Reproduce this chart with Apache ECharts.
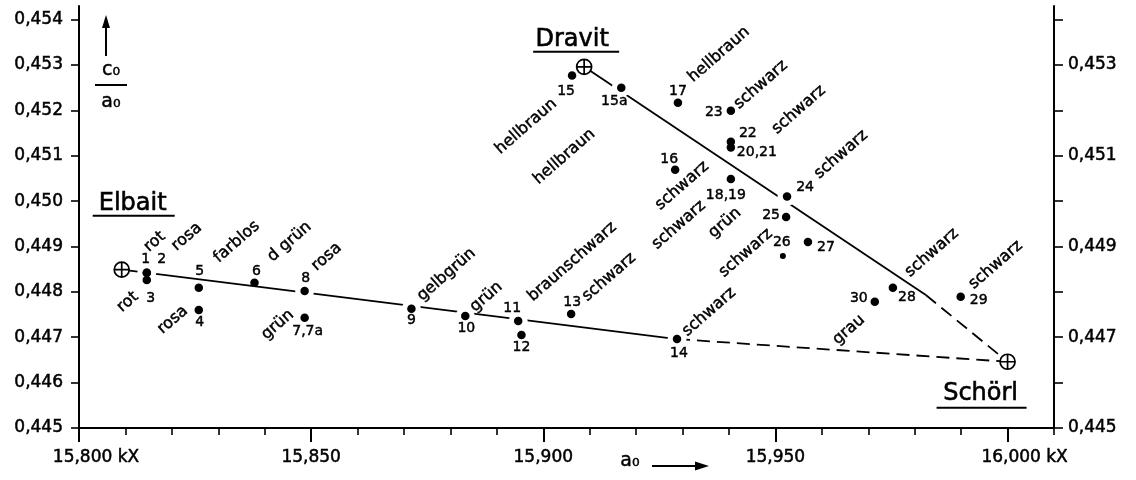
<!DOCTYPE html>
<html><head><meta charset="utf-8">
<script src="https://cdn.jsdelivr.net/npm/echarts@6/dist/echarts.min.js"></script>
<style>html,body{margin:0;padding:0;background:#fff}#c{width:1136px;height:480px}</style>
</head><body><div id="c"></div>
<script>
// ---------------- data ----------------
const xTickValues = [15800,15810,15820,15830,15840,15850,15860,15870,15880,15890,15900,15910,15920,15930,15940,15950,15960,15970,15980,15990,16000,16010];
const xLabelValues = [15800,15850,15900,15950,16000];
const xTickLabels = ['15,800 kX','15,850','15,900','15,950','16,000 kX'];
const yTickValues = [0.445,0.446,0.447,0.448,0.449,0.450,0.451,0.452,0.453,0.454];
const yLeftLabels = ['0,445','0,446','0,447','0,448','0,449','0,450','0,451','0,452','0,453','0,454'];
const yRightLabelValues = [0.445,0.447,0.449,0.451,0.453];
const yRightLabels = ['0,445','0,447','0,449','0,451','0,453'];

const sampleNo    = ['1','2','3','4','5','6','7,7a','8','9','10','11','12','13','14','15','15a','16','17','18,19','20,21','22','23','24','25','26','27','28','29','30'];
const sampleA0    = [15814.6,15814.6,15814.6,15825.8,15825.8,15837.8,15848.6,15848.6,15871.6,15883.2,15894.6,15895.3,15906.0,15928.8,15906.2,15916.8,15928.4,15929.0,15940.4,15940.4,15940.4,15940.4,15952.5,15952.3,15951.6,15957.0,15975.3,15989.9,15971.4];
const sampleRatio = [0.44842,0.44842,0.44826,0.44760,0.44809,0.44820,0.44743,0.44802,0.44763,0.44747,0.44736,0.44705,0.44751,0.44696,0.45277,0.45250,0.45069,0.45217,0.45049,0.45118,0.45131,0.45199,0.45010,0.44965,0.44879,0.44910,0.44809,0.44789,0.44778];

const endName  = ['Elbait','Dravit','Schörl'];
const endA0    = [15809.2,15908.8,16000.0];
const endRatio = [0.44849,0.45296,0.44646];
// vertex where the Dravit–Schörl line turns from solid to dashed
const dravitBreakA0 = 15982.4;
const dravitBreakRatio = 0.44793;

const colourText   = ['rot','rosa','rot','rosa','farblos','d grün','grün','rosa','gelbgrün','grün','braunschwarz','schwarz','schwarz','hellbraun','hellbraun','schwarz','hellbraun','schwarz','grün','schwarz','schwarz','schwarz','schwarz','schwarz','schwarz','grau'];
const colourSample = ['1','2','3','4','5','6','7,7a','8','9','10','11','13','14','15','15a','16','17','18,19','18,19','23','22','24','26','28','29','30'];

// ---------------- layout (pixel offsets / styles) ----------------
const numOffset = {'1':[-1,-13],'2':[15,-13],'3':[4,18],'4':[1,12],'5':[1,-16],'6':[2,-11],'7,7a':[3,14],'8':[1,-13],'9':[0,12],'10':[1,12],'11':[-6,-13],'12':[0,12],'13':[1,-12],'14':[2,14],'15':[-6,16],'15a':[-7,14],'16':[-6,-10],'17':[0,-11],'18,19':[-5,16],'20,21':[26,5],'22':[17,-8],'23':[-17,2],'24':[18,-9],'25':[-15,-2],'26':[-1,-14],'27':[18,5],'28':[14,10],'29':[18,3],'30':[-16,-3]};
const colourOffset = [[8,-31],[40,-36],[-19,22],[-26,10],[38,-46],[35,-41],[-27,7],[22,-34],[35,-34],[21,-19],[54,-59],[38,-37],[32,-27],[-46,51],[-57,69],[7,16],[41,-48],[-52,46],[-6,44],[30,-26],[68,-32],[54,-42],[-37,-3],[39,-35],[35,-32],[-26,28]];
const gapSamples = ['1','8','9','10','11','14','15a','24'];
const smallDots = ['26'];
const endTitleLayout = [
  {t:[11,-66], u:[-29,53,-54]},
  {t:[-12,-27], u:[-51,35,-15]},
  {t:[-27,32], u:[-71,19,46]}
];

const FONT = '"DejaVu Sans", sans-serif';
const chart = echarts.init(document.getElementById('c'));
const idx = n => sampleNo.indexOf(n);
const pt = n => [sampleA0[idx(n)], sampleRatio[idx(n)]];
const endPt = i => [endA0[i], endRatio[i]];
const near = (a,b) => Math.abs(a-b) < 1e-7;
const gridBox = {left:79, right:82, top:6, bottom:52};
const axisLineStyle = {color:'#000', width:2};
const labelBase = {color:'#000', fontFamily:FONT, fontSize:17, textBorderColor:'#000', textBorderWidth:0.5};

const option = {
  backgroundColor:'#fff',
  animation:false,
  grid:[Object.assign({},gridBox), Object.assign({},gridBox)],
  xAxis:[
    {type:'value', gridIndex:0, min:15800, max:16010, position:'bottom',
     axisLine:{show:true, onZero:false, lineStyle:axisLineStyle},
     axisTick:{show:true, length:7, customValues:xTickValues, lineStyle:{color:'#000', width:1.6}},
     axisLabel:Object.assign({}, labelBase, {customValues:xLabelValues, margin:21,
       formatter:v => { const i = xLabelValues.findIndex(x=>near(x,v)); if (i<0) return ''; const s = xTickLabels[i]; return s.indexOf('kX')>=0 ? '{k|'+s+'}' : s; },
       rich:{k:{padding:[0,0,0,34], color:'#000', fontFamily:FONT, fontSize:17, textBorderColor:'#000', textBorderWidth:0.5}}}),
     splitLine:{show:false}},
    {type:'value', gridIndex:1, min:15800, max:16010, position:'bottom',
     axisLine:{show:false}, axisTick:{show:true, length:14, customValues:xLabelValues, lineStyle:{color:'#000', width:2}},
     axisLabel:{show:false}, splitLine:{show:false}}
  ],
  yAxis:[
    {type:'value', gridIndex:0, min:0.445, max:0.4543, position:'left',
     axisLine:{show:true, onZero:false, lineStyle:axisLineStyle},
     axisTick:{show:true, length:8, customValues:yTickValues, lineStyle:{color:'#000', width:1.6}},
     axisLabel:Object.assign({}, labelBase, {customValues:yTickValues, margin:16,
       formatter:v => { const i = yTickValues.findIndex(x=>near(x,v)); return i<0 ? '' : yLeftLabels[i]; }}),
     splitLine:{show:false}},
    {type:'value', gridIndex:0, min:0.445, max:0.4543, position:'right',
     axisLine:{show:true, onZero:false, lineStyle:axisLineStyle},
     axisTick:{show:true, length:9, customValues:yTickValues, lineStyle:{color:'#000', width:1.6}},
     axisLabel:Object.assign({}, labelBase, {customValues:yRightLabelValues, margin:14,
       formatter:v => { const i = yRightLabelValues.findIndex(x=>near(x,v)); return i<0 ? '' : yRightLabels[i]; }}),
     splitLine:{show:false}},
    {type:'value', gridIndex:1, min:0.445, max:0.4543, show:false}
  ],
  series:[
    {type:'line', xAxisIndex:0, yAxisIndex:0, data:[endPt(0), pt('14')], symbol:'none', silent:true, z:2,
     lineStyle:{color:'#000', width:1.8, opacity:1}},
    {type:'line', xAxisIndex:0, yAxisIndex:0, data:[pt('14'), endPt(2)], symbol:'none', silent:true, z:2,
     lineStyle:{color:'#000', width:1.8, opacity:1, type:[13,7]}},
    {type:'line', xAxisIndex:0, yAxisIndex:0, data:[endPt(1), [dravitBreakA0, dravitBreakRatio]], symbol:'none', silent:true, z:2,
     lineStyle:{color:'#000', width:1.8, opacity:1}},
    {type:'line', xAxisIndex:0, yAxisIndex:0, data:[[dravitBreakA0, dravitBreakRatio], endPt(2)], symbol:'none', silent:true, z:2,
     lineStyle:{color:'#000', width:1.8, opacity:1, type:[13,7]}},
    {type:'scatter', xAxisIndex:0, yAxisIndex:0, data:gapSamples.map(pt), symbol:'circle', symbolSize:19, silent:true, z:3,
     itemStyle:{color:'#fff', opacity:1}},
    {type:'scatter', xAxisIndex:0, yAxisIndex:0, z:4, silent:true,
     data:sampleNo.map((n,i)=>({value:[sampleA0[i], sampleRatio[i]], symbolSize: smallDots.indexOf(n)>=0 ? 6 : 8.5})),
     symbol:'circle', itemStyle:{color:'#000', opacity:1}},
    {type:'scatter', xAxisIndex:0, yAxisIndex:0, z:5, silent:true,
     data:endName.map((n,i)=>endPt(i)),
     symbol:'path://M0,10A10,10,0,1,1,20,10A10,10,0,1,1,0,10ZM10,0L10,20M0,10L20,10', symbolSize:15,
     itemStyle:{color:'#fff', borderColor:'#000', borderWidth:1.7, opacity:1}}
  ]
};
chart.setOption(option);

// ---------------- text annotations ----------------
const toPx = v => chart.convertToPixel({xAxisIndex:0, yAxisIndex:0}, v);
const graphics = [];
const txt = (x,y,text,size,rot,bw) => graphics.push({type:'text', x:x, y:y, rotation: rot||0, silent:true, z:10,
  style:{text:text, fill:'#000', stroke:'#000', lineWidth: bw===undefined ? 0.45 : bw, font: size+'px '+FONT, align:'center', verticalAlign:'middle', textAlign:'center', textVerticalAlign:'middle'}});
const line = (x1,y1,x2,y2,w) => graphics.push({type:'line', silent:true, z:10, shape:{x1:x1,y1:y1,x2:x2,y2:y2}, style:{stroke:'#000', lineWidth:w||2}});
const tri = (pts) => graphics.push({type:'polygon', silent:true, z:10, shape:{points:pts}, style:{fill:'#000'}});

sampleNo.forEach((n,i) => {
  const p = toPx([sampleA0[i], sampleRatio[i]]);
  const o = numOffset[n] || [0,-12];
  txt(p[0]+o[0], p[1]+o[1], n, 14);
});
const ROT = 41*Math.PI/180;
colourText.forEach((t,i) => {
  const p = toPx(pt(colourSample[i]));
  const o = colourOffset[i];
  txt(p[0]+o[0], p[1]+o[1], t, 16, ROT);
});
endName.forEach((n,i) => {
  const p = toPx(endPt(i));
  const L = endTitleLayout[i];
  txt(p[0]+L.t[0], p[1]+L.t[1], n, 24, 0, 0.6);
  line(p[0]+L.u[0], p[1]+L.u[2], p[0]+L.u[1], p[1]+L.u[2], 2);
});
// y-axis title (c0 / a0 with arrow)
line(106,56,106,26,2);
tri([[106,15],[102,28],[110,28]]);
txt(111,70,'c₀',19);
line(95,85,127,85,2);
txt(111,102,'a₀',19);
// x-axis title
txt(630,461,'a₀',19);
line(652,466,696,466,2);
tri([[709,466],[695,461.5],[695,470.5]]);

chart.setOption({graphic:graphics});
</script></body></html>
